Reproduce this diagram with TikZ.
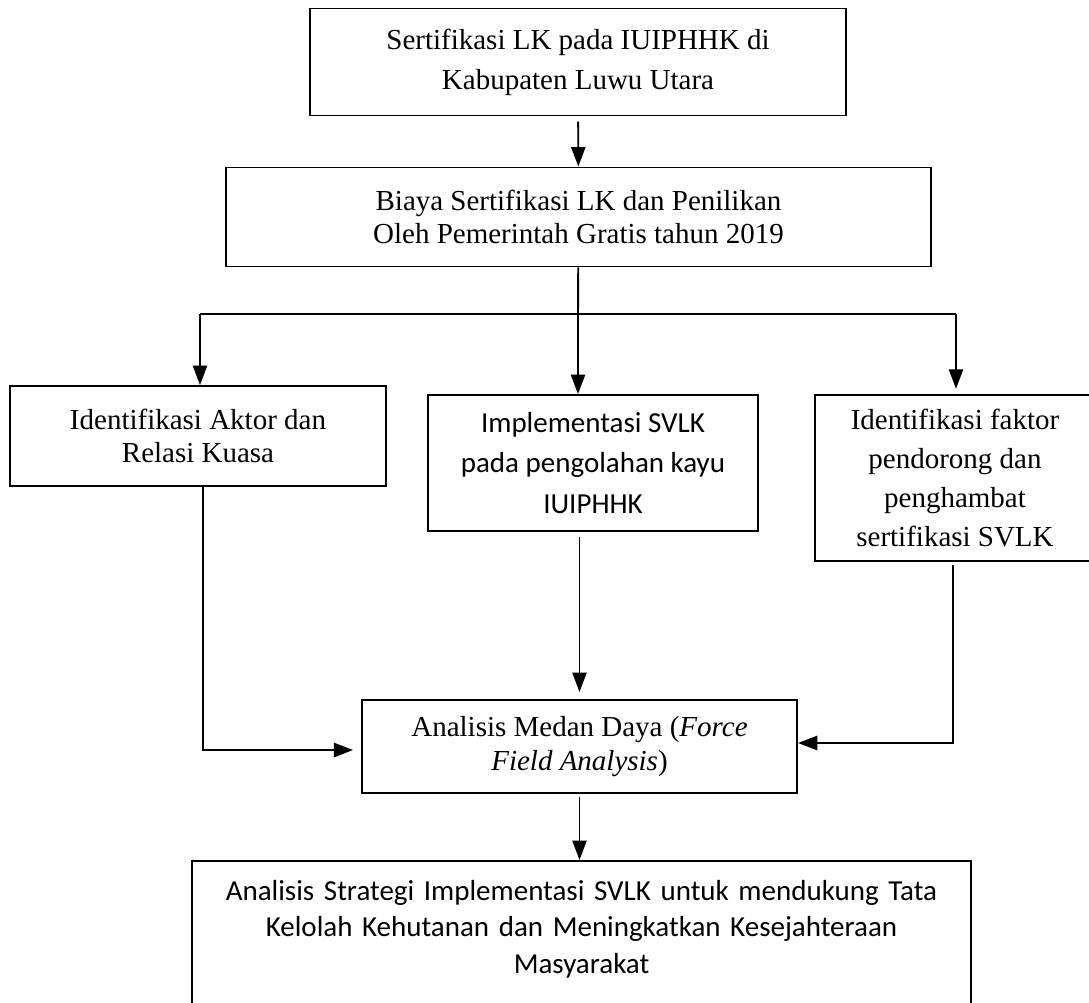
\documentclass[tikz,border=0pt]{standalone}
\usepackage{fontspec}
\setmainfont{Liberation Serif}
\newfontfamily\calibfont{Carlito}
\usetikzlibrary{arrows.meta, positioning}

\newcommand{\boxfont}[1]{\fontsize{16.5}{#1}\selectfont}

\tikzset{
    box/.style={draw, line width=1.1pt, align=center, inner sep=0pt,
        font=\boxfont{#1}},
    box/.default=19.3pt,
    sansbox/.style={box, font=\calibfont\boxfont{#1}},
    sansbox/.default=19.3pt,
}

\begin{document}
\begin{tikzpicture}[x=0.02cm, y=-0.02cm, >={Triangle[length=11pt,width=8pt]}, line width=1.1pt]
    \useasboundingbox (0,0) rectangle (1089,1002);

    % Nodes
    \node[box=22.7pt, minimum width=10.72cm, minimum height=2.14cm] (cert) at (578, 62)
        {Sertifikasi LK pada IUIPHHK di\\Kabupaten Luwu Utara};
    \node[box=18.7pt, minimum width=14.1cm, minimum height=1.98cm] (cost) at (578.5, 217)
        {Biaya Sertifikasi LK dan Penilikan\\Oleh Pemerintah Gratis tahun 2019};
    \node[box=18.7pt, minimum width=7.52cm, minimum height=2cm] (actor) at (198, 436)
        {Identifikasi Aktor dan\\Relasi Kuasa};
    \node[sansbox=23.2pt, minimum width=6.6cm, minimum height=2.72cm] (impl) at (593, 463)
        {Implementasi SVLK\\pada pengolahan kayu\\IUIPHHK};
    \node[box=22.1pt, minimum width=5.6cm, minimum height=3.32cm] (factor) at (955, 478)
        {Identifikasi faktor\\pendorong dan\\penghambat\\sertifikasi SVLK};
    \node[box=19.3pt, minimum width=8.7cm, minimum height=1.86cm] (ffa) at (579.5, 746.5)
        {Analisis Medan Daya (\textit{Force}\\\textit{Field Analysis})};
    \node[sansbox=20.7pt, anchor=north, text width=15.58cm, inner ysep=11pt] (goal) at (581.5, 860)
        {Analisis Strategi Implementasi SVLK untuk mendukung Tata\\Kelolah Kehutanan dan Meningkatkan Kesejahteraan\\Masyarakat\\\rule{0pt}{60pt}};

    % Split
    \coordinate (split) at (578, 314);
    \coordinate (barL) at (200, 314);
    \coordinate (barR) at (956, 314);
    \coordinate (runL) at (203, 0);
    \coordinate (runR) at (953, 0);

    % Paths
    \draw[->, shorten <=3pt] (cert) -- (cost);
    \draw (cost) -- (split);
    \draw (barL) -- (barR);
    \draw[->] (barL) -- (barL |- actor.north);
    \draw[->] (split) -- (split |- impl.north);
    \draw[->, shorten >=3pt] (barR) -- (barR |- factor.north);

    \draw[->, line width=1.5pt, shorten >=4.5pt] (actor.south -| runL) |- ([yshift=-2pt]ffa.west);
    \draw[->, shorten <=3pt, shorten >=4pt] (impl.south -| ffa) -- (ffa);
    \draw[->, line width=1.5pt, shorten <=2pt] (factor.south -| runR) |- ([yshift=2pt]ffa.east);
    \draw[->, shorten <=2pt] (ffa) -- (ffa |- goal.north);
\end{tikzpicture}
\end{document}
